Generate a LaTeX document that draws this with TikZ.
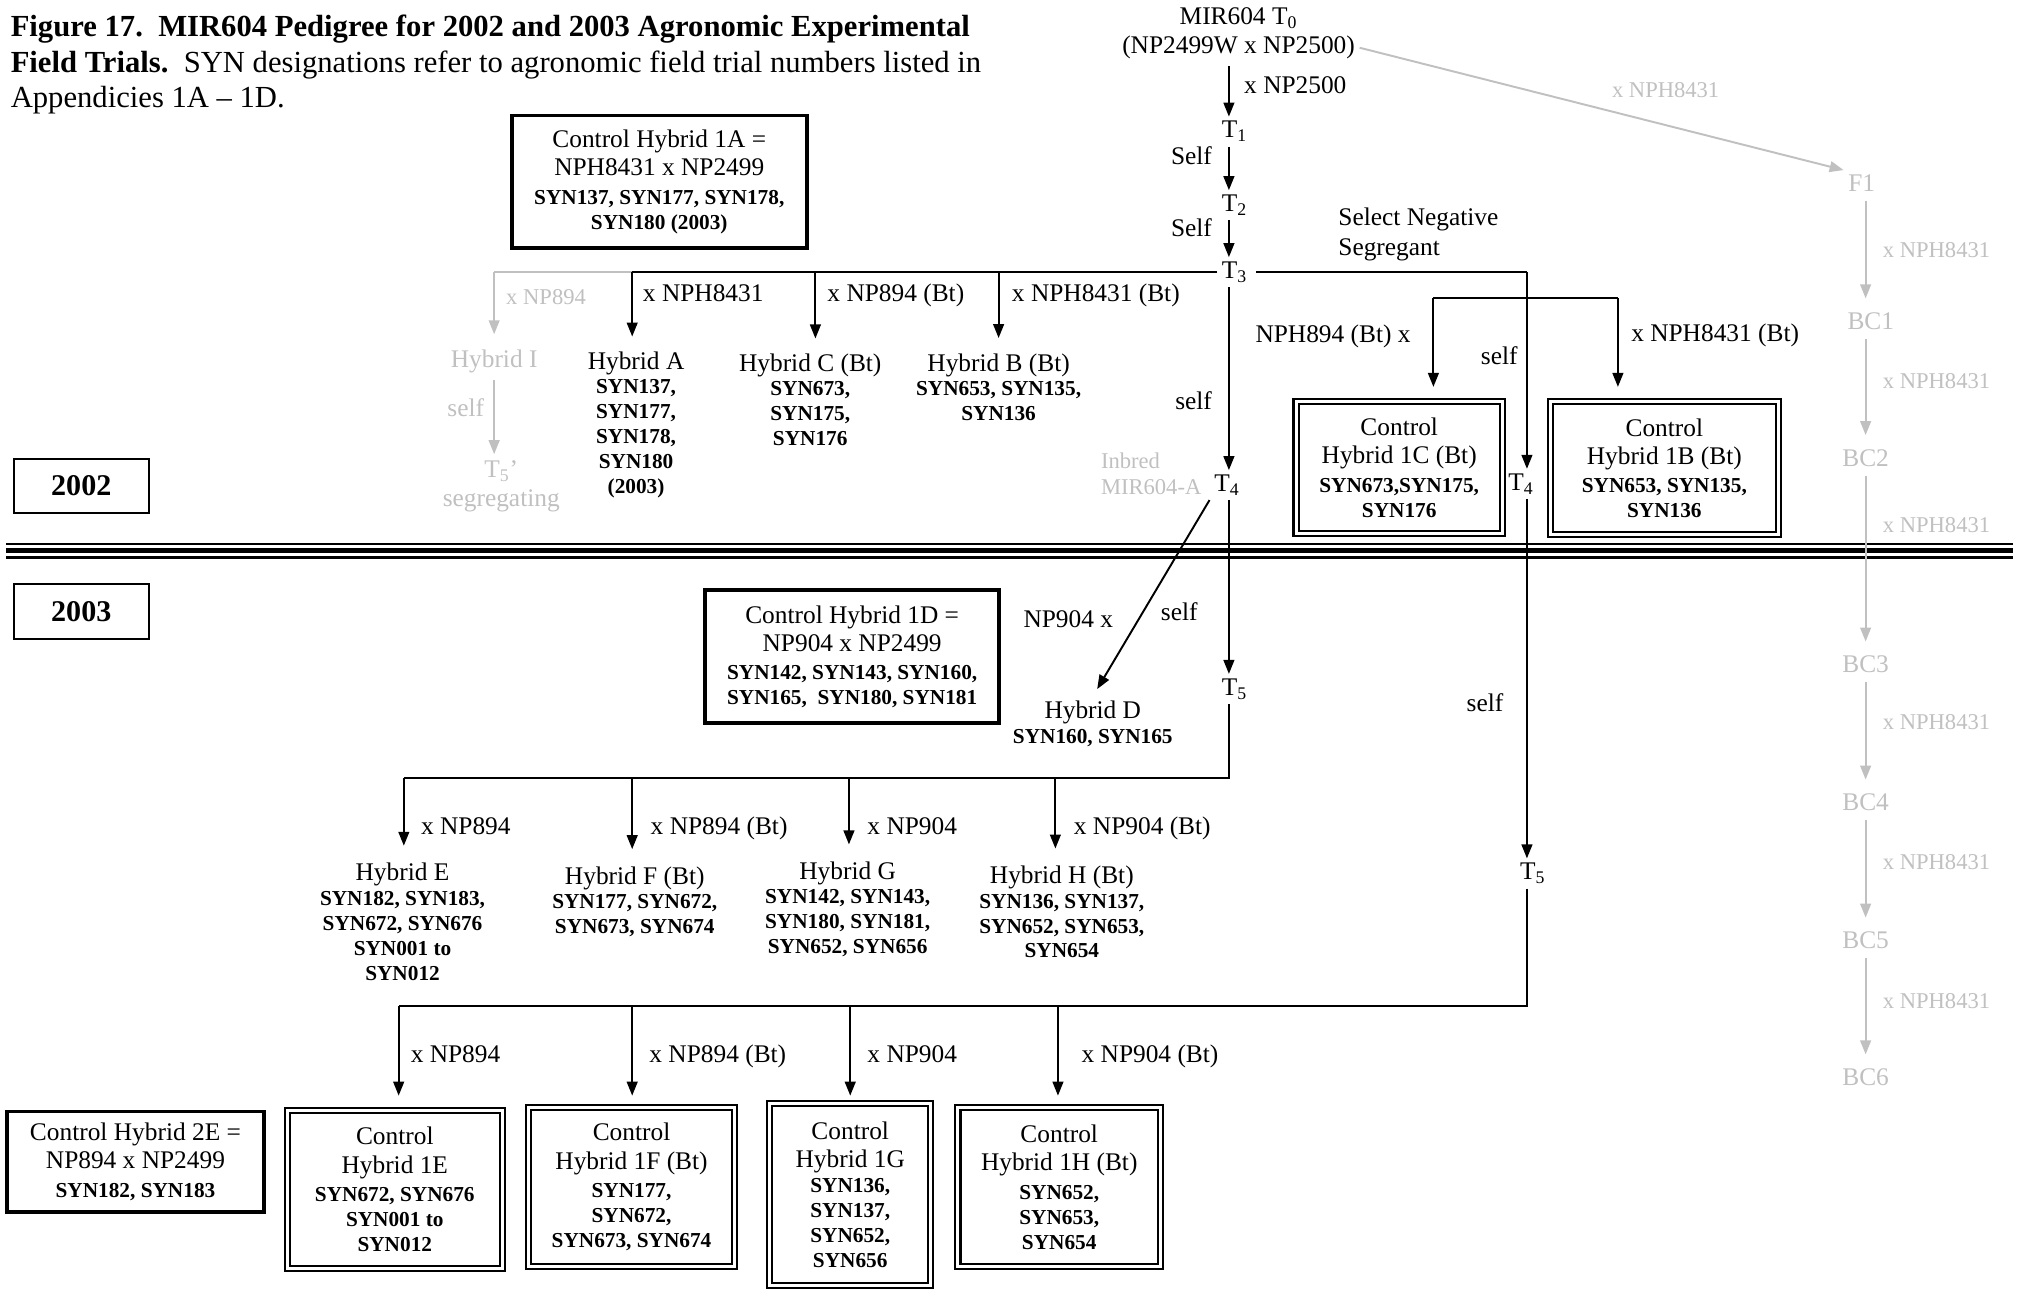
\documentclass[tikz,border=0pt]{standalone}
\usepackage{fontspec}
\setmainfont{Liberation Serif}
\usetikzlibrary{arrows.meta}
\definecolor{gry}{RGB}{192,192,192}
\newcommand{\sy}[1]{{\fontsize{9.9}{11.6}\selectfont\bfseries #1}}
\newcommand{\Ts}[1]{T\textsubscript{#1}}
\def\U{0.6pt}
\begin{document}
\begin{tikzpicture}[x=0.6pt,y=-0.6pt,
  font=\fontsize{11.8}{13.2}\selectfont,
  every node/.style={inner sep=2pt},
  ln/.style={draw, line width=0.9pt},
  arr/.style={ln, -{Triangle[length=6.5pt,width=5pt]}},
  gln/.style={ln, draw=gry},
  garr/.style={arr, draw=gry},
  gtx/.style={text=gry},
  gsm/.style={text=gry, font=\fontsize{10.5}{12}\selectfont},
  lw/.style={anchor=base west},
  le/.style={anchor=base east},
  hyb/.style={align=center},
  cbox/.style={draw, line width=1.8pt, align=center, inner sep=0pt},
  dbox/.style={draw, double, double distance=1.4pt, line width=0.95pt, align=center, inner sep=0pt},
  ybox/.style={draw, line width=0.9pt, inner sep=0pt, font=\fontsize{14}{16}\selectfont\bfseries},
  ttl/.style={anchor=base west, inner sep=0pt, font=\fontsize{14.25}{16.5}\selectfont}
]
\useasboundingbox (0,0) rectangle (1568,1001);

% ---------- title ----------
\node[ttl, font=\fontsize{14.25}{16.5}\selectfont\bfseries] (ti1) at (8,28.5) {Figure 17.\ \ MIR604 Pedigree for 2002 and 2003 Agronomic Experimental};
\node[ttl] (ti2) at (8,56) {\textbf{Field Trials.}\ \ SYN designations refer to agronomic field trial numbers listed in};
\node[ttl] (ti3) at (8,83) {Appendicies 1A – 1D.};

% ---------- separator ----------
\draw[line width=1.2pt] (5,421.7) -- (1560,421.7);
\draw[line width=2.5pt] (5,426.6) -- (1560,426.6);
\draw[line width=1.2pt] (5,431.9) -- (1560,431.9);

% ---------- year boxes ----------
\node[ybox, minimum width=105*\U, minimum height=42*\U] (y2002) at (63,376.5) {2002};
\node[ybox, minimum width=105*\U, minimum height=43*\U] (y2003) at (63,474) {2003};

% ---------- control boxes ----------
\node[cbox, minimum width=229*\U, minimum height=103*\U] (c1A) at (511,141)
  {Control Hybrid 1A =\\NPH8431 x NP2499\\\sy{SYN137, SYN177, SYN178,}\\[-1.6pt]\sy{SYN180 (2003)}};
\node[cbox, minimum width=228*\U, minimum height=103*\U] (c1D) at (660.5,509)
  {Control Hybrid 1D =\\NP904 x NP2499\\\sy{SYN142, SYN143, SYN160,}\\[-1.6pt]\sy{SYN165,\ \ SYN180, SYN181}};
\node[cbox, minimum width=199*\U, minimum height=78*\U] (c2E) at (105,900.5)
  {Control Hybrid 2E =\\NP894 x NP2499\\\sy{SYN182, SYN183}};
\node[dbox, minimum width=160*\U, minimum height=102*\U] (c1C) at (1084.5,362.5)
  {Control\\Hybrid 1C (Bt)\\\sy{SYN673,SYN175,}\\[-1.6pt]\sy{SYN176}};
\node[dbox, minimum width=177*\U, minimum height=103*\U] (c1B) at (1290,363)
  {Control\\Hybrid 1B (Bt)\\\sy{SYN653, SYN135,}\\[-1.6pt]\sy{SYN136}};
\node[dbox, minimum width=167*\U, minimum height=123*\U] (c1E) at (306,922)
  {Control\\Hybrid 1E\\\sy{SYN672, SYN676}\\[-1.6pt]\sy{SYN001 to}\\[-1.6pt]\sy{SYN012}};
\node[dbox, minimum width=160*\U, minimum height=123*\U] (c1F) at (489.5,920)
  {Control\\Hybrid 1F (Bt)\\\sy{SYN177,}\\[-1.6pt]\sy{SYN672,}\\[-1.6pt]\sy{SYN673, SYN674}};
\node[dbox, minimum width=125*\U, minimum height=141*\U] (c1G) at (659,926)
  {Control\\Hybrid 1G\\[-1.6pt]\sy{SYN136,}\\[-1.6pt]\sy{SYN137,}\\[-1.6pt]\sy{SYN652,}\\[-1.6pt]\sy{SYN656}};
\node[dbox, minimum width=157*\U, minimum height=123*\U] (c1H) at (821,920)
  {Control\\Hybrid 1H (Bt)\\\sy{SYN652,}\\[-1.6pt]\sy{SYN653,}\\[-1.6pt]\sy{SYN654}};

% ---------- main line ----------
\coordinate (colL) at (952.5,0);
\coordinate (colR) at (1183.5,0);
\node (t0a) at (960,14) {MIR604 \Ts{0}};
\node (t0b) at (960,37) {(NP2499W x NP2500)};
\node (t1) at (957,102) {\Ts{1}};
\node (t2) at (957,159) {\Ts{2}};
\node (t3) at (957,211) {\Ts{3}};
\node (t4) at (951,376) {\Ts{4}};
\node (t5) at (957,534) {\Ts{5}};
\node (t4b) at (1179,375) {\Ts{4}};
\node (t5b) at (1188,677) {\Ts{5}};

\node[lw] (lx2500) at (960.7,72.5) {x NP2500};
\node[le] (lself1) at (943,127.5) {Self};
\node[le] (lself2) at (943,183.5) {Self};
\node[anchor=west, align=left] (lsel) at (1033.7,181.5) {Select Negative\\[0.6pt]Segregant};
\node[le] (lself3) at (943,317.5) {self};
\node[anchor=west, align=left, gsm] (linb) at (849.7,367) {Inbred\\MIR604-A};
\node (lself4) at (914,474) {self};
\node (lnp904) at (828,480) {NP904 x};
\node (lself5) at (1162,276) {self};
\node (lself6) at (1151,545) {self};
\node[le] (lnph894) at (1097,265.5) {NPH894 (Bt) x};
\node[lw] (lnph8431b) at (1260.7,264.5) {x NPH8431 (Bt)};

% ---------- 2002 hybrids ----------
\node[hyb, gtx] (hI) at (383,280) {Hybrid I};
\node[hyb, gtx] (t5p) at (388.5,377) {\Ts{5}'\\segregating};
\node[gtx] (lselfI) at (361,316) {self};
\node[hyb] (hA) at (493,329.5) {Hybrid A\\[-1.9pt]\sy{SYN137,}\\[-1.6pt]\sy{SYN177,}\\[-1.6pt]\sy{SYN178,}\\[-1.6pt]\sy{SYN180}\\[-1.6pt]\sy{(2003)}};
\node[hyb] (hC) at (628,310) {Hybrid C (Bt)\\[-1.9pt]\sy{SYN673,}\\[-1.6pt]\sy{SYN175,}\\[-1.6pt]\sy{SYN176}};
\node[hyb] (hB) at (774,300) {Hybrid B (Bt)\\[-1.9pt]\sy{SYN653, SYN135,}\\[-1.6pt]\sy{SYN136}};
\node[lw, gsm] (lxI) at (388.7,235.8) {x NP894};
\node[lw] (lxA) at (494.7,233.5) {x NPH8431};
\node[lw] (lxC) at (637.7,233.5) {x NP894 (Bt)};
\node[lw] (lxB) at (780.7,233.5) {x NPH8431 (Bt)};

\node[hyb] (hD) at (847,561) {Hybrid D\\[-1.9pt]\sy{SYN160, SYN165}};

% ---------- 2003 hybrids ----------
\node[hyb] (hE) at (312,714.5) {Hybrid E\\[-1.9pt]\sy{SYN182, SYN183,}\\[-1.6pt]\sy{SYN672, SYN676}\\[-1.6pt]\sy{SYN001 to}\\[-1.6pt]\sy{SYN012}};
\node[hyb] (hF) at (492,699) {Hybrid F (Bt)\\[-1.9pt]\sy{SYN177, SYN672,}\\[-1.6pt]\sy{SYN673, SYN674}};
\node[hyb] (hG) at (657,705) {Hybrid G\\[-1.9pt]\sy{SYN142, SYN143,}\\[-1.6pt]\sy{SYN180, SYN181,}\\[-1.6pt]\sy{SYN652, SYN656}};
\node[hyb] (hH) at (823,707) {Hybrid H (Bt)\\[-1.9pt]\sy{SYN136, SYN137,}\\[-1.6pt]\sy{SYN652, SYN653,}\\[-1.6pt]\sy{SYN654}};
\node[lw] (lxE) at (322.7,646.5) {x NP894};
\node[lw] (lxF) at (500.7,646.5) {x NP894 (Bt)};
\node[lw] (lxG) at (668.7,646.5) {x NP904};
\node[lw] (lxH) at (828.7,646.5) {x NP904 (Bt)};
\node[lw] (lyE) at (314.7,823.5) {x NP894};
\node[lw] (lyF) at (499.7,823.5) {x NP894 (Bt)};
\node[lw] (lyG) at (668.7,823.5) {x NP904};
\node[lw] (lyH) at (834.7,823.5) {x NP904 (Bt)};

% ---------- gray backcross chain ----------
\coordinate (colG) at (1446,0);
\node[gtx] (f1) at (1443,142) {F1};
\node[gtx] (bc1) at (1450,249) {BC1};
\node[gtx] (bc2) at (1446,355) {BC2};
\node[gtx] (bc3) at (1446,515) {BC3};
\node[gtx] (bc4) at (1446,622) {BC4};
\node[gtx] (bc5) at (1446,729) {BC5};
\node[gtx] (bc6) at (1446,835) {BC6};
\node[gsm] (lg0) at (1291,70) {x NPH8431};
\foreach \n/\y in {1/194,2/295,3/407,4/560,5/668,6/776}
  \node[lw, gsm] (lg\n) at (1455.7,\y+5.8) {x NPH8431};

\draw[garr] (t0b.east) -- (f1.north west);
\draw[garr, shorten <=2pt, shorten >=4.5pt] (f1.south -| colG) -- (bc1.north -| colG);
\draw[garr, shorten <=2pt, shorten >=4.5pt] (bc1.south -| colG) -- (bc2.north -| colG);
\draw[garr, shorten <=2pt, shorten >=4.5pt] (bc2.south -| colG) -- (bc3.north -| colG);
\draw[garr, shorten <=2pt, shorten >=4.5pt] (bc3.south -| colG) -- (bc4.north -| colG);
\draw[garr, shorten <=2pt, shorten >=4.5pt] (bc4.south -| colG) -- (bc5.north -| colG);
\draw[garr, shorten <=2pt, shorten >=4.5pt] (bc5.south -| colG) -- (bc6.north -| colG);

% ---------- main connectors ----------
\coordinate (jI) at (383,211);
\coordinate (jA) at (490,211);
\coordinate (jC) at (632,211);
\coordinate (jB) at (774,211);
\coordinate (jR) at (1183.5,211);

\draw[arr, shorten <=1pt] (t0b.south -| colL) -- (t1.north -| colL);
\draw[arr] (t1.south -| colL) -- (t2.north -| colL);
\draw[arr] (t2.south -| colL) -- (t3.north -| colL);
\draw[ln] (t3.west) -- (jA);
\draw[gln] (jA) -- (jI);
\draw[garr, shorten >=5pt] (jI) -- (jI |- hI.north);
\draw[garr, shorten <=1pt, shorten >=1pt] (hI.south -| jI) -- (jI |- t5p.north);
\draw[arr, shorten >=5pt] (jA) -- (jA |- hA.north);
\draw[arr, shorten >=5pt] (jC) -- (jC |- hC.north);
\draw[arr, shorten >=5pt] (jB) -- (jB |- hB.north);

\draw[arr] (t3.south -| colL) -- (t4.north -| colL);
\draw[ln, shorten <=2pt] (t3.east) -- (jR);
\draw[arr] (jR) -- (jR |- t4b.north);

\coordinate (bL) at (1111,231);
\coordinate (bR) at (1254,231);
\draw[ln] (bL) -- (bR);
\draw[arr, shorten >=6.5pt] (bL) -- (bL |- c1C.north);
\draw[arr, shorten >=6.5pt] (bR) -- (bR |- c1B.north);

\draw[arr] (t4.south -| colL) -- (t5.north -| colL);
\draw[arr, shorten >=4pt] (t4.south west) -- (hD.north);

\coordinate (jE) at (313,603);
\coordinate (jF) at (490,603);
\coordinate (jG) at (658,603);
\coordinate (jH) at (818,603);
\draw[ln] (t5.south -| colL) |- (jE);
\draw[arr, shorten >=6pt] (jE) -- (jE |- hE.north);
\draw[arr, shorten >=6pt] (jF) -- (jF |- hF.north);
\draw[arr, shorten >=6pt] (jG) -- (jG |- hG.north);
\draw[arr, shorten >=6pt] (jH) -- (jH |- hH.north);

\draw[arr] (t4b.south -| colR) -- (t5b.north -| colR);
\coordinate (kE) at (309,780);
\coordinate (kF) at (490,780);
\coordinate (kG) at (659,780);
\coordinate (kH) at (820,780);
\draw[ln] (t5b.south -| colR) |- (kE);
\draw[arr, shorten >=6.3pt] (kE) -- (kE |- c1E.north);
\draw[arr, shorten >=5.1pt] (kF) -- (kF |- c1F.north);
\draw[arr, shorten >=3.3pt] (kG) -- (kG |- c1G.north);
\draw[arr, shorten >=5.1pt] (kH) -- (kH |- c1H.north);
\end{tikzpicture}
\end{document}
